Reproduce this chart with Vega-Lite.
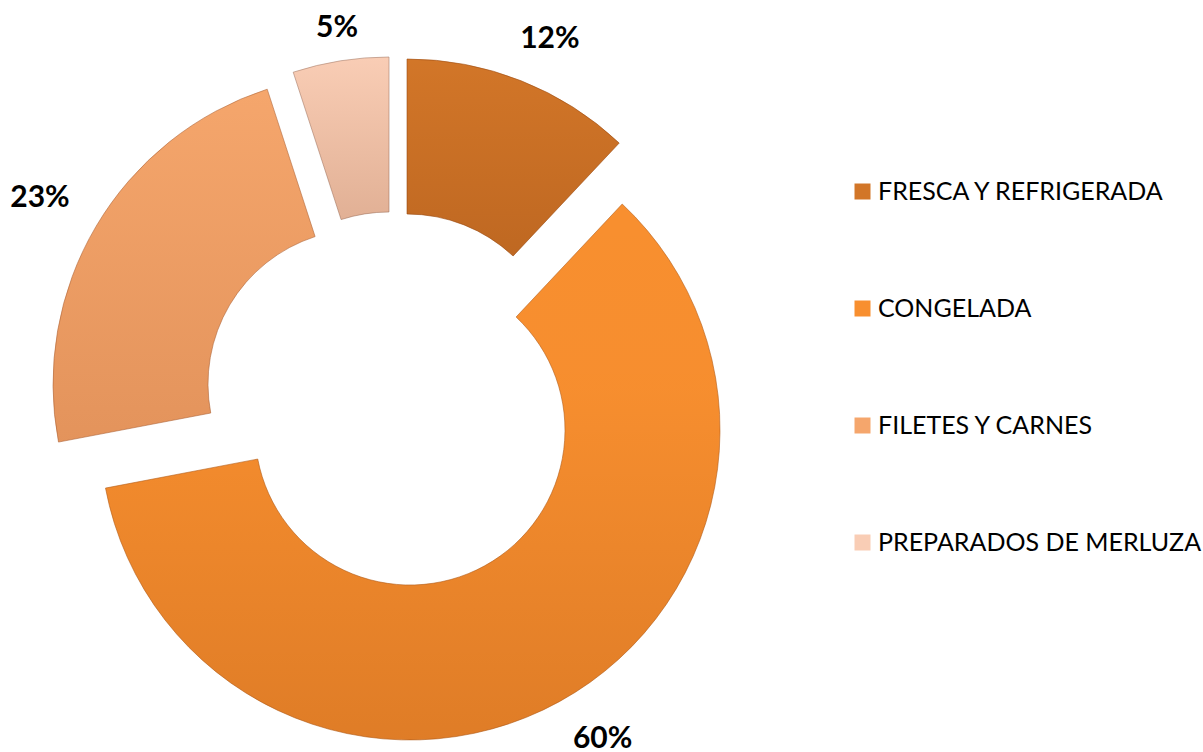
{
  "$schema": "https://vega.github.io/schema/vega-lite/v6.json",
  "width": 784,
  "height": 752,
  "padding": 0,
  "autosize": {"type": "pad"},
  "background": "white",
  "view": {"stroke": null},
  "data": {
    "values": [
      {"categoria": "FRESCA Y REFRIGERADA", "valor": 0.12, "orden": 1},
      {"categoria": "CONGELADA", "valor": 0.60, "orden": 2},
      {"categoria": "FILETES Y CARNES", "valor": 0.23, "orden": 3},
      {"categoria": "PREPARADOS DE MERLUZA", "valor": 0.05, "orden": 4}
    ]
  },
  "transform": [
    {"stack": "valor", "groupby": [], "sort": [{"field": "orden", "order": "ascending"}], "as": ["v0", "v1"]}
  ],
  "encoding": {
    "theta": {"field": "v0", "type": "quantitative", "scale": {"domain": [0, 1]}}
  },
  "layer": [
    {
      "transform": [{"filter": "datum.categoria === 'FRESCA Y REFRIGERADA'"}],
      "mark": {"type": "arc", "innerRadius": 155, "outerRadius": 310, "xOffset": 15, "yOffset": -7, "stroke": "#9E4E14", "strokeWidth": 1, "strokeOpacity": 0.6},
      "encoding": {"theta2": {"field": "v1"}, "color": {"field": "categoria", "type": "nominal", "scale": {"domain": ["FRESCA Y REFRIGERADA", "CONGELADA", "FILETES Y CARNES", "PREPARADOS DE MERLUZA"], "range": ["#D27628", "#F88F2F", "#F5A66C", "#F9CDB5"]}, "legend": {"title": null}}}
    },
    {
      "transform": [{"filter": "datum.categoria === 'CONGELADA'"}],
      "mark": {"type": "arc", "innerRadius": 155, "outerRadius": 310, "xOffset": 18, "yOffset": 54, "stroke": "#B5601C", "strokeWidth": 1, "strokeOpacity": 0.6},
      "encoding": {"theta2": {"field": "v1"}, "color": {"field": "categoria", "type": "nominal"}}
    },
    {
      "transform": [{"filter": "datum.categoria === 'FILETES Y CARNES'"}],
      "mark": {"type": "arc", "innerRadius": 155, "outerRadius": 310, "xOffset": -29, "yOffset": 8, "stroke": "#B36A40", "strokeWidth": 1, "strokeOpacity": 0.6},
      "encoding": {"theta2": {"field": "v1"}, "color": {"field": "categoria", "type": "nominal"}}
    },
    {
      "transform": [{"filter": "datum.categoria === 'PREPARADOS DE MERLUZA'"}],
      "mark": {"type": "arc", "innerRadius": 155, "outerRadius": 310, "xOffset": -3, "yOffset": -9, "stroke": "#A8806E", "strokeWidth": 1, "strokeOpacity": 0.6},
      "encoding": {"theta2": {"field": "v1"}, "color": {"field": "categoria", "type": "nominal"}}
    },
    {
      "transform": [{"filter": "datum.categoria === 'FRESCA Y REFRIGERADA'"}],
      "mark": {"type": "arc", "innerRadius": 155, "outerRadius": 310, "xOffset": 15, "yOffset": -7, "color": {"gradient": "linear", "x1": 0, "y1": 0, "x2": 0, "y2": 1, "stops": [{"offset": 0, "color": "rgba(90,30,0,0)"}, {"offset": 1, "color": "rgba(90,30,0,0.16)"}]}},
      "encoding": {"theta2": {"field": "v1"}}
    },
    {
      "transform": [{"filter": "datum.categoria === 'CONGELADA'"}],
      "mark": {"type": "arc", "innerRadius": 155, "outerRadius": 310, "xOffset": 18, "yOffset": 54, "color": {"gradient": "linear", "x1": 0, "y1": 0, "x2": 0, "y2": 1, "stops": [{"offset": 0, "color": "rgba(110,40,0,0)"}, {"offset": 0.35, "color": "rgba(110,40,0,0.01)"}, {"offset": 1, "color": "rgba(110,40,0,0.18)"}]}},
      "encoding": {"theta2": {"field": "v1"}}
    },
    {
      "transform": [{"filter": "datum.categoria === 'FILETES Y CARNES'"}],
      "mark": {"type": "arc", "innerRadius": 155, "outerRadius": 310, "xOffset": -29, "yOffset": 8, "color": {"gradient": "linear", "x1": 0, "y1": 0, "x2": 0, "y2": 1, "stops": [{"offset": 0, "color": "rgba(140,55,10,0)"}, {"offset": 1, "color": "rgba(140,55,10,0.17)"}]}},
      "encoding": {"theta2": {"field": "v1"}}
    },
    {
      "transform": [{"filter": "datum.categoria === 'PREPARADOS DE MERLUZA'"}],
      "mark": {"type": "arc", "innerRadius": 155, "outerRadius": 310, "xOffset": -3, "yOffset": -9, "color": {"gradient": "linear", "x1": 0, "y1": 0, "x2": 0, "y2": 1, "stops": [{"offset": 0, "color": "rgba(130,60,20,0)"}, {"offset": 1, "color": "rgba(130,60,20,0.2)"}]}},
      "encoding": {"theta2": {"field": "v1"}}
    },
    {
      "transform": [{"filter": "datum.categoria === 'FRESCA Y REFRIGERADA'"}],
      "mark": {"type": "text", "radius": 360, "thetaOffset": 0.408, "xOffset": 15, "yOffset": -7, "font": "Lato", "fontWeight": "bold", "fontSize": 30, "color": "#000000", "align": "center", "baseline": "middle"},
      "encoding": {"text": {"field": "valor", "type": "quantitative", "format": ".0%"}}
    },
    {
      "transform": [{"filter": "datum.categoria === 'CONGELADA'"}],
      "mark": {"type": "text", "radius": 364, "thetaOffset": 1.83, "xOffset": 18, "yOffset": 54, "font": "Lato", "fontWeight": "bold", "fontSize": 30, "color": "#000000", "align": "center", "baseline": "middle"},
      "encoding": {"text": {"field": "valor", "type": "quantitative", "format": ".0%"}}
    },
    {
      "transform": [{"filter": "datum.categoria === 'FILETES Y CARNES'"}],
      "mark": {"type": "text", "radius": 373, "thetaOffset": 0.712, "xOffset": -29, "yOffset": 8, "font": "Lato", "fontWeight": "bold", "fontSize": 30, "color": "#000000", "align": "center", "baseline": "middle"},
      "encoding": {"text": {"field": "valor", "type": "quantitative", "format": ".0%"}}
    },
    {
      "transform": [{"filter": "datum.categoria === 'PREPARADOS DE MERLUZA'"}],
      "mark": {"type": "text", "radius": 343, "thetaOffset": 0.162, "xOffset": -3, "yOffset": -9, "font": "Lato", "fontWeight": "bold", "fontSize": 30, "color": "#000000", "align": "center", "baseline": "middle"},
      "encoding": {"text": {"field": "valor", "type": "quantitative", "format": ".0%"}}
    }
  ],
  "config": {
    "legend": {
      "orient": "none",
      "legendX": 850,
      "legendY": 179,
      "padding": 0,
      "symbolType": "square",
      "symbolSize": 256,
      "symbolStrokeWidth": 0,
      "labelFont": "Lato",
      "labelFontSize": 25,
      "labelColor": "#000000",
      "labelOffset": 3,
      "rowPadding": 91,
      "labelLimit": 400
    }
  }
}
